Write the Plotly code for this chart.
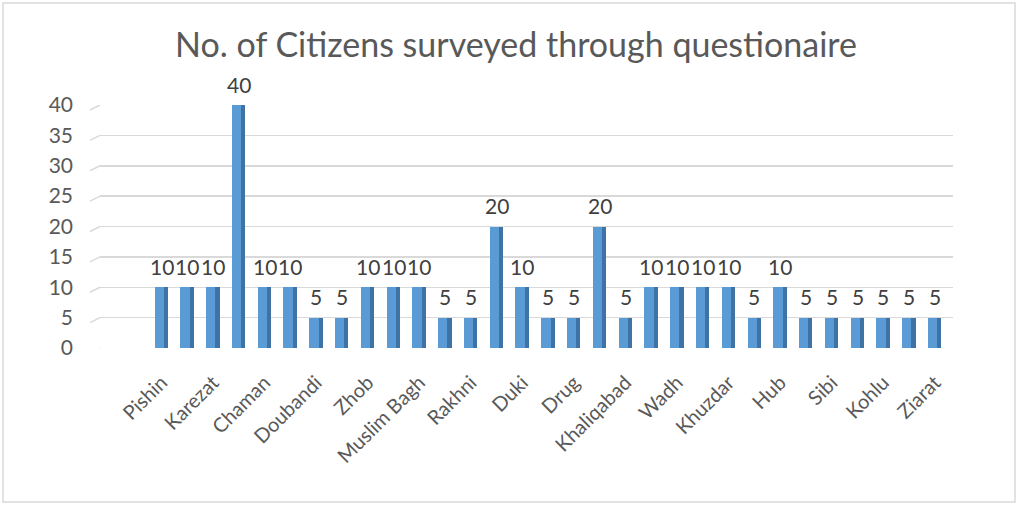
import plotly.graph_objects as go

# Survey counts per location (31 locations, every other one labelled on the axis)
values = [10, 10, 10, 40, 10, 10, 5, 5, 10, 10, 10, 5, 5, 20, 10, 5,
          5, 20, 5, 10, 10, 10, 10, 5, 10, 5, 5, 5, 5, 5, 5]
tick_labels = ["Pishin", "Karezat", "Chaman", "Doubandi", "Zhob", "Muslim Bagh",
               "Rakhni", "Duki", "Drug", "Khaliqabad", "Wadh", "Khuzdar",
               "Hub", "Sibi", "Kohlu", "Ziarat"]
y_ticks = [0, 5, 10, 15, 20, 25, 30, 35, 40]
title_text = "No. of Citizens surveyed through questionaire"

positions = list(range(len(values)))
tick_positions = positions[::2]

W, H = 1019, 507
L, R, T, B = 100, 66, 105, 159
plot_w = W - L - R

FRONT = "#5B9BD5"
SIDE = "#3F73A6"
GRID = "#D9D9D9"
TXT = "#595959"
FONT = "Lato"

fig = go.Figure()

# right-hand face of each column (gives the bevelled 3D look)
fig.add_trace(go.Bar(
    x=positions, y=values, width=0.16, offset=0.09,
    marker=dict(color=SIDE, line=dict(width=0)),
    hoverinfo="skip", showlegend=False,
))
# front face
fig.add_trace(go.Bar(
    x=positions, y=values, width=0.36, offset=-0.27,
    marker=dict(color=FRONT, line=dict(width=0)),
    hoverinfo="skip", showlegend=False,
))

# value labels above the columns
for xi, v in zip(positions, values):
    fig.add_annotation(
        x=xi, y=v, text=str(v), showarrow=False,
        yanchor="middle", yshift=21, xanchor="center",
        font=dict(family=FONT, size=21, color="#404040"),
    )

shapes = []
# short slanted lead-in at the left end of every gridline (floor perspective)
for t in y_ticks:
    shapes.append(dict(
        type="line", xref="paper", yref="y",
        xsizemode="pixel", xanchor=0, x0=-10, x1=0,
        ysizemode="pixel", yanchor=t, y0=-5, y1=0,
        line=dict(color=GRID, width=1.5), layer="below",
    ))
# outer chart border
shapes.append(dict(
    type="rect", xref="paper", yref="paper",
    x0=(3 - L) / plot_w, x1=(1015 - L) / plot_w,
    y0=-(502 - (H - B)) / (H - T - B), y1=1 + (T - 3) / (H - T - B),
    line=dict(color=GRID, width=1.5), fillcolor="rgba(0,0,0,0)", layer="below",
))

fig.update_layout(
    width=W, height=H, autosize=False,
    margin=dict(l=L, r=R, t=T, b=B, pad=0),
    paper_bgcolor="white", plot_bgcolor="white",
    barmode="overlay", bargap=0,
    showlegend=False, hovermode=False,
    shapes=shapes,
    title=dict(
        text=title_text, x=516 / W, xref="container", xanchor="center",
        y=1 - 45 / H, yref="container", yanchor="middle",
        font=dict(family=FONT, size=34, color=TXT),
    ),
    xaxis=dict(
        range=[-2.386, 30.70], tickmode="array",
        tickvals=tick_positions, ticktext=tick_labels,
        tickangle=-45, ticks="", showgrid=False, zeroline=False,
        showline=False, ticklabelstandoff=18,
        tickfont=dict(family=FONT, size=20, color=TXT),
    ),
    yaxis=dict(
        range=[0, 40], tickmode="array", tickvals=y_ticks,
        ticks="", showgrid=True, gridcolor=GRID, gridwidth=1.5,
        zeroline=False, showline=False, ticklabelstandoff=26,
        tickfont=dict(family=FONT, size=21, color=TXT),
    ),
    font=dict(family=FONT, color=TXT),
)

fig.write_html("out.html", config={"displayModeBar": False, "staticPlot": True})
